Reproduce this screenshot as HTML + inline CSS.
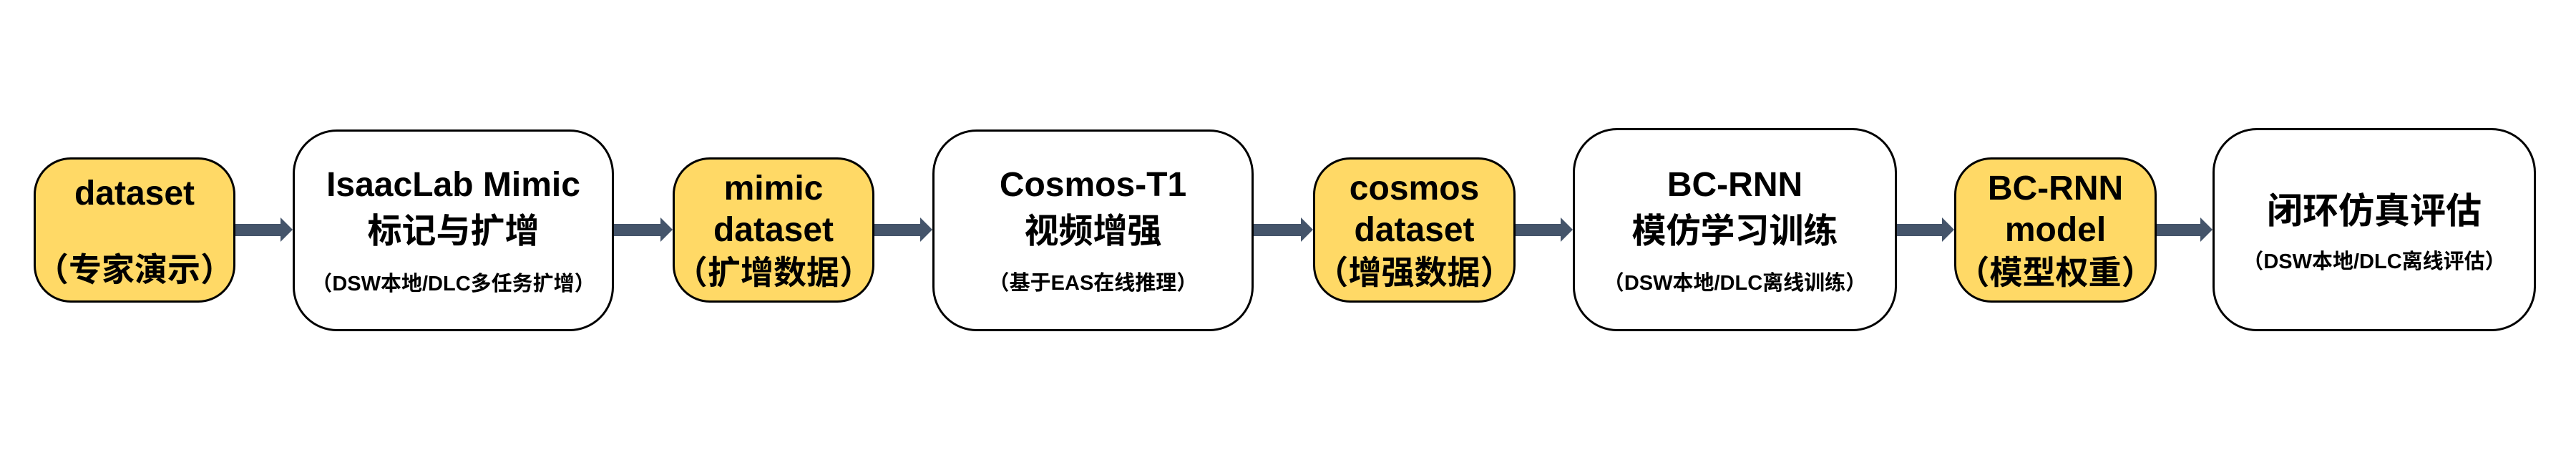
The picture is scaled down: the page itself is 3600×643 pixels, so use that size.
<!DOCTYPE html>
<html><head><meta charset="utf-8"><style>
body{margin:0;width:3600px;height:643px;background:#fff;position:relative;overflow:hidden;font-family:"Liberation Sans","Noto Sans CJK SC",sans-serif;font-weight:bold;color:#000}
.b{position:absolute;box-sizing:border-box;border:3px solid #000}
.w{background:#fff;border-radius:62px;top:181px;height:282px}
.y{background:#FFD966;border-radius:52px;top:220px;height:203px}
.t{position:absolute;left:0;width:100%;text-align:center;white-space:nowrap;height:60px;line-height:60px}
.L{font-size:48px}
.P{font-size:46px}
.S{font-size:29px}
.a{position:absolute;top:313px;height:17px;background:#44546A}
.a:after{content:"";position:absolute;right:-16px;top:-9px;border-left:17px solid #44546A;border-top:17px solid transparent;border-bottom:17px solid transparent}
</style></head><body>
<div class="a" style="left:329px;width:64px"></div>
<div class="a" style="left:858px;width:66px"></div>
<div class="a" style="left:1222px;width:65px"></div>
<div class="a" style="left:1752px;width:67px"></div>
<div class="a" style="left:2118px;width:64px"></div>
<div class="a" style="left:2651px;width:64px"></div>
<div class="a" style="left:3014px;width:62px"></div>

<div class="b y" style="left:47px;width:282px">
 <div class="t L" style="top:18px">dataset</div>
 <div class="t P" style="top:124px">（专家演示）</div>
</div>
<div class="b w" style="left:409px;width:449px">
 <div class="t L" style="top:45px">IsaacLab Mimic</div>
 <div class="t L" style="top:110px">标记与扩增</div>
 <div class="t S" style="top:183px">（DSW本地/DLC多任务扩增）</div>
</div>
<div class="b y" style="left:940px;width:282px">
 <div class="t L" style="top:11px">mimic</div>
 <div class="t L" style="top:69px">dataset</div>
 <div class="t P" style="top:128px">（扩增数据）</div>
</div>
<div class="b w" style="left:1303px;width:449px">
 <div class="t L" style="top:45px">Cosmos-T1</div>
 <div class="t L" style="top:110px">视频增强</div>
 <div class="t S" style="top:182px">（基于EAS在线推理）</div>
</div>
<div class="b y" style="left:1835px;width:283px">
 <div class="t L" style="top:11px">cosmos</div>
 <div class="t L" style="top:69px">dataset</div>
 <div class="t P" style="top:128px">（增强数据）</div>
</div>
<div class="b w" style="left:2198px;width:453px;top:179px;height:284px">
 <div class="t L" style="top:47px">BC-RNN</div>
 <div class="t L" style="top:112px">模仿学习训练</div>
 <div class="t S" style="top:184px">（DSW本地/DLC离线训练）</div>
</div>
<div class="b y" style="left:2731px;width:283px">
 <div class="t L" style="top:11px">BC-RNN</div>
 <div class="t L" style="top:69px">model</div>
 <div class="t P" style="top:128px">（模型权重）</div>
</div>
<div class="b w" style="left:3092px;width:452px;top:179px;height:284px">
 <div class="t L" style="top:83px;font-size:50px">闭环仿真评估</div>
 <div class="t S" style="top:154px">（DSW本地/DLC离线评估）</div>
</div>
</body></html>
